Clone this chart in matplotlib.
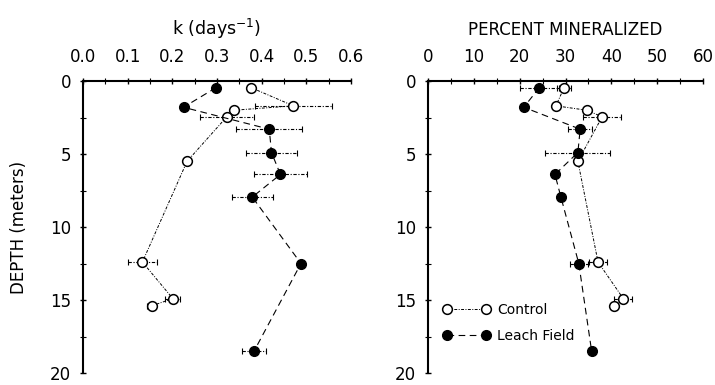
import numpy as np
import matplotlib
matplotlib.use("Agg")
import matplotlib.pyplot as plt
from matplotlib.ticker import MultipleLocator, FormatStrFormatter

plt.rcParams['font.family'] = ['DejaVu Sans']

# ---- data ----
ctrl_depth = [0.45, 1.7, 2.0, 2.45, 5.5, 12.4, 14.9, 15.4]
ctrl_k     = [0.376, 0.471, 0.339, 0.322, 0.233, 0.133, 0.201, 0.154]
ctrl_k_err = [0.0, 0.086, 0.0, 0.06, 0.0, 0.032, 0.017, 0.01]
ctrl_pct     = [29.7, 27.9, 34.6, 38.0, 32.7, 37.1, 42.6, 40.6]
ctrl_pct_err = [1.5, 0.0, 0.0, 4.2, 0.0, 2.0, 2.0, 0.0]

leach_depth = [0.45, 1.8, 3.3, 4.9, 6.4, 7.95, 12.5, 18.5]
leach_k     = [0.298, 0.225, 0.417, 0.422, 0.442, 0.379, 0.488, 0.383]
leach_k_err = [0.0, 0.0, 0.074, 0.057, 0.06, 0.046, 0.0, 0.027]
leach_pct     = [24.3, 20.9, 33.2, 32.7, 27.7, 29.0, 32.9, 35.7]
leach_pct_err = [4.2, 0.0, 2.6, 7.1, 0.0, 0.0, 2.0, 0.0]

k_ticks = [0.0, 0.1, 0.2, 0.3, 0.4, 0.5, 0.6]
pct_ticks = [0, 10, 20, 30, 40, 50, 60]
depth_ticks = [0, 5, 10, 15, 20]

W, H = 715, 385
fig = plt.figure(figsize=(W / 100, H / 100), dpi=100)
axL = fig.add_axes([83 / W, (H - 373) / H, 268 / W, 292 / H])
axR = fig.add_axes([428 / W, (H - 373) / H, 275 / W, 292 / H])

ctrl_ls = (0, (3, 1.5, 1, 1.5))
leach_ls = (0, (6, 4))


def draw(ax, cx, cerr, lx, lerr):
    cd = np.array(ctrl_depth); cx = np.array(cx); cerr = np.array(cerr)
    ld = np.array(leach_depth); lx = np.array(lx); lerr = np.array(lerr)
    m = cerr > 0
    eb = ax.errorbar(cx[m], cd[m], xerr=cerr[m], fmt='none', ecolor='black',
                     elinewidth=0.8, capsize=2, capthick=0.8, zorder=2)
    eb[2][0].set_linestyle((0, (3, 1.5, 1, 1.5)))
    m = lerr > 0
    eb = ax.errorbar(lx[m], ld[m], xerr=lerr[m], fmt='none', ecolor='black',
                     elinewidth=0.8, capsize=2, capthick=0.8, zorder=2)
    eb[2][0].set_linestyle((0, (3, 1.5, 1, 1.5)))
    ax.plot(cx, cd, linestyle=ctrl_ls, color='black', lw=0.7,
            marker='o', mfc='white', mec='black', ms=7, mew=1.1, zorder=3,
            label='Control')
    ax.plot(lx, ld, linestyle=leach_ls, color='black', lw=0.8,
            marker='o', mfc='black', mec='black', ms=7, zorder=3,
            label='Leach Field')
    ax.set_ylim(20, 0)
    ax.set_yticks(depth_ticks)
    ax.yaxis.set_minor_locator(MultipleLocator(2.5))
    ax.xaxis.tick_top()
    ax.xaxis.set_label_position('top')
    for s in ['bottom', 'right']:
        ax.spines[s].set_visible(False)
    for s in ['top', 'left']:
        ax.spines[s].set_linewidth(1.5)
    ax.tick_params(which='major', direction='inout', length=5, width=1,
                   labelsize=12, pad=6)
    ax.tick_params(which='minor', direction='inout', length=4, width=0.8)
    ax.tick_params(axis='x', pad=8)


draw(axL, ctrl_k, ctrl_k_err, leach_k, leach_k_err)
axL.set_xlim(0, 0.6)
axL.set_xticks(k_ticks)
axL.xaxis.set_major_formatter(FormatStrFormatter('%.1f'))
axL.xaxis.set_minor_locator(MultipleLocator(0.05))
axL.set_xlabel('k (days$^{-1}$)', fontsize=12.5, labelpad=10)
axL.set_ylabel('DEPTH (meters)', fontsize=12, labelpad=16)

draw(axR, ctrl_pct, ctrl_pct_err, leach_pct, leach_pct_err)
axR.set_xlim(0, 60)
axR.set_xticks(pct_ticks)
axR.xaxis.set_minor_locator(MultipleLocator(5))
axR.set_xlabel('PERCENT MINERALIZED', fontsize=12, labelpad=10)

axR.legend(loc='lower left', bbox_to_anchor=(0.01, 0.06), frameon=False,
           numpoints=2, fontsize=10, handlelength=3.4, handletextpad=0.5,
           labelspacing=0.85)

fig.savefig('out.png', dpi=100)
